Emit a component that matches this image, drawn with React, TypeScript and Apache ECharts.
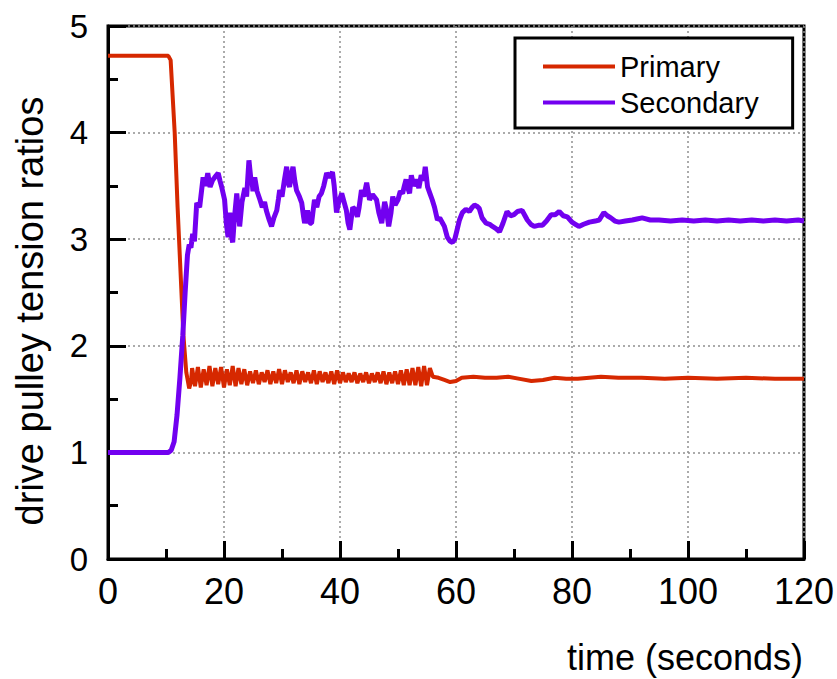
import React, { useEffect, useRef } from "react";
import * as echarts from "echarts";

const xTicks = [0, 20, 40, 60, 80, 100, 120];
const yTicks = [0, 1, 2, 3, 4, 5];

const primaryTime = [
  0, 5, 10.4, 10.8, 11.5, 12.0, 12.5, 13.0, 13.5, 14.0, 14.3,
  14.5, 15, 15.5, 16, 16.5, 17, 17.5, 18, 18.5, 19, 19.5, 20, 20.5, 21, 21.5, 22, 22.5, 23, 23.5, 24,
  24.5, 25, 25.5, 26, 26.5, 27, 27.5, 28, 28.5, 29, 29.5, 30, 30.5, 31, 31.5, 32, 32.5, 33, 33.5, 34,
  34.5, 35, 35.5, 36, 36.5, 37, 37.5, 38, 38.5, 39, 39.5, 40, 40.5, 41, 41.5, 42, 42.5, 43, 43.5, 44,
  44.5, 45, 45.5, 46, 46.5, 47, 47.5, 48, 48.5, 49, 49.5, 50, 50.5, 51, 51.5, 52, 52.5, 53, 53.5, 54,
  54.5, 55, 55.5, 56,
  57, 58, 59, 60, 61, 63, 65, 67, 69, 71, 73, 75, 77, 79, 81, 83, 85, 88, 92, 96, 100, 105, 110, 115, 120,
];
const primaryRatio = [
  4.72, 4.72, 4.72, 4.68, 4.0, 3.3, 2.7, 2.1, 1.75, 1.6, 1.66,
  1.79, 1.62, 1.8, 1.61, 1.78, 1.63, 1.81, 1.62, 1.79, 1.64, 1.8, 1.61, 1.78, 1.63, 1.81, 1.62, 1.79, 1.64, 1.78, 1.63,
  1.76, 1.65, 1.77, 1.64, 1.75, 1.66, 1.77, 1.64, 1.76, 1.65, 1.78, 1.64, 1.77, 1.66, 1.75, 1.65, 1.77, 1.64, 1.76, 1.66,
  1.75, 1.65, 1.77, 1.64, 1.76, 1.66, 1.75, 1.65, 1.76, 1.64, 1.77, 1.65, 1.75, 1.66, 1.74, 1.66, 1.75, 1.65, 1.74, 1.66,
  1.75, 1.65, 1.74, 1.66, 1.75, 1.65, 1.76, 1.64, 1.75, 1.65, 1.76, 1.64, 1.77, 1.63, 1.78, 1.63, 1.79, 1.63, 1.8, 1.62,
  1.81, 1.63, 1.79, 1.71,
  1.7, 1.68, 1.66, 1.67, 1.7, 1.71, 1.7, 1.7, 1.71, 1.69, 1.67, 1.68, 1.7, 1.69, 1.69, 1.7, 1.71, 1.7, 1.7, 1.69, 1.7, 1.69, 1.7, 1.69, 1.69,
];

const secondaryTime = [
  0, 10.4, 10.9, 11.4, 11.9, 12.4, 12.9, 13.3, 13.7, 14.0, 14.3, 14.6, 14.9,
  15.3, 15.8, 16.4, 16.8, 17.2, 17.6, 18.0, 18.4, 19.0, 19.3, 19.6, 20.1, 20.4, 20.7, 21.0, 21.2, 21.5, 21.8,
  22.2, 22.5, 22.7, 23.1, 23.6, 23.9, 24.3, 24.6, 24.8, 25.0, 25.3, 25.7, 26.2, 26.6, 27.0, 27.3, 27.8, 28.2,
  28.6, 29.1, 29.4, 29.6, 30.0, 30.4, 30.8, 31.1, 31.3, 31.6, 31.9, 32.2, 32.5, 33.0, 33.4, 33.7, 33.9, 34.4,
  34.8, 35.1, 35.6, 36.0, 36.4, 36.8, 37.2, 37.7, 38.2, 38.7, 39.0, 39.4, 39.8, 40.3, 40.7, 41.1, 41.4, 41.7,
  42.2, 42.6, 43.0, 43.3, 43.7, 44.1, 44.6, 45.1, 45.6, 46.3, 46.7, 47.2, 47.7, 48.0, 48.4, 48.8, 49.1, 49.5,
  50.0, 50.4, 50.8, 51.1, 51.4, 51.7, 52.0, 52.3, 52.7, 53.2, 53.6, 54.0, 54.4, 54.7, 55.1, 55.5, 55.9, 56.3,
  56.8, 57.2, 57.7, 58.0, 58.5, 59.0, 59.4, 59.8, 60.2, 60.6, 61.1, 61.7, 62.3, 62.8, 63.2, 63.6, 64.0, 64.5,
  65.2, 65.8, 66.3, 66.9, 67.5, 68.1, 68.8, 69.4, 70.0, 70.6, 71.4, 71.9, 72.3, 72.9, 73.5, 74.2, 74.9, 75.6,
  76.4, 77.1, 77.8, 78.5, 79.2, 80.0, 80.6, 81.2, 82.0, 83.0, 84.0, 84.7, 85.5, 86.1, 86.7, 87.4, 88.1, 89.2,
  90.4, 91.2, 92.1, 93.5, 95, 97, 99, 101, 103, 105, 107, 109, 111, 113, 115, 117, 119, 120,
];
const secondaryRatio = [
  1.0, 1.0, 1.02, 1.1, 1.35, 1.7, 2.1, 2.5, 2.85, 2.95, 2.92, 3.05, 2.98,
  3.34, 3.3, 3.58, 3.5, 3.62, 3.49, 3.55, 3.58, 3.62, 3.55, 3.49, 3.37, 3.15, 3.02, 3.25, 3.05, 2.97, 3.2,
  3.43, 3.25, 3.12, 3.35, 3.48, 3.4, 3.74, 3.58, 3.56, 3.45, 3.58, 3.45, 3.37, 3.3, 3.35, 3.27, 3.18, 3.12,
  3.2, 3.27, 3.38, 3.46, 3.4, 3.55, 3.68, 3.52, 3.49, 3.6, 3.68, 3.55, 3.46, 3.4, 3.34, 3.22, 3.15, 3.27,
  3.15, 3.15, 3.37, 3.3, 3.4, 3.43, 3.5, 3.62, 3.58, 3.63, 3.5, 3.25, 3.35, 3.43, 3.35, 3.27, 3.15, 3.09,
  3.3, 3.28, 3.21, 3.3, 3.46, 3.4, 3.53, 3.37, 3.42, 3.37, 3.25, 3.15, 3.35, 3.28, 3.12, 3.25, 3.4, 3.32,
  3.37, 3.45, 3.43, 3.5, 3.56, 3.48, 3.43, 3.6, 3.5, 3.56, 3.48, 3.6, 3.55, 3.68, 3.49, 3.43, 3.37, 3.3,
  3.18, 3.2, 3.15, 3.12, 3.02, 2.98, 2.97, 3.0, 3.09, 3.18, 3.25, 3.28, 3.26, 3.3, 3.32, 3.31, 3.29, 3.2,
  3.15, 3.14, 3.12, 3.1, 3.07, 3.15, 3.26, 3.22, 3.23, 3.26, 3.27, 3.22, 3.18, 3.14, 3.12, 3.13, 3.13, 3.17,
  3.23, 3.23, 3.26, 3.22, 3.21, 3.16, 3.14, 3.12, 3.14, 3.16, 3.17, 3.18, 3.25, 3.22, 3.2, 3.17, 3.16, 3.17,
  3.18, 3.19, 3.2, 3.18, 3.18, 3.17, 3.18, 3.17, 3.18, 3.17, 3.18, 3.17, 3.18, 3.17, 3.18, 3.17, 3.18, 3.17,
];

const FONT = "'Liberation Sans', Arial, sans-serif";

export default function App() {
  const ref = useRef<HTMLDivElement>(null);
  useEffect(() => {
    if (!ref.current) return;
    const chart = echarts.init(ref.current, undefined, { renderer: "svg" });
    const primaryData = primaryTime.map((t, i) => [t, primaryRatio[i]]);
    const secondaryData = secondaryTime.map((t, i) => [t, secondaryRatio[i]]);
    const axisCommon = {
      type: "value" as const,
      axisLine: { show: true, lineStyle: { color: "#000", width: 3 } },
      axisTick: { show: true, inside: true, length: 18, lineStyle: { color: "#000", width: 3 } },
      minorTick: { show: true, splitNumber: 2, length: 10, lineStyle: { color: "#000", width: 3 } },
      splitLine: { show: true, lineStyle: { color: "#909090", type: [2, 3] as any, width: 1.5 } },
    };
    chart.setOption({
      animation: false,
      backgroundColor: "#fff",
      grid: {
        left: 108,
        right: 32,
        top: 26,
        bottom: 120,
        show: true,
        borderColor: "#000",
        borderWidth: 3,
        backgroundColor: "transparent",
      },
      xAxis: {
        ...axisCommon,
        min: xTicks[0],
        max: xTicks[xTicks.length - 1],
        interval: 20,
        axisLabel: { fontSize: 36, color: "#000", fontFamily: FONT, margin: 14 },
      },
      yAxis: {
        ...axisCommon,
        min: yTicks[0],
        max: yTicks[yTicks.length - 1],
        interval: 1,
        axisLabel: { fontSize: 33, color: "#000", fontFamily: FONT, margin: 20 },
      },
      legend: {
        left: 515,
        top: 38,
        orient: "vertical",
        icon: "rect",
        itemWidth: 72,
        itemHeight: 4,
        itemGap: 7,
        padding: [14, 34, 11, 28],
        borderColor: "#000",
        borderWidth: 3,
        backgroundColor: "#fff",
        textStyle: { fontSize: 29, color: "#000", fontFamily: FONT, lineHeight: 29 },
        data: ["Primary", "Secondary"],
      },
      graphic: [
        {
          type: "text",
          x: 803,
          y: 657,
          style: {
            text: "time (seconds)",
            font: `36px ${FONT}`,
            fill: "#000",
            textAlign: "right",
            textVerticalAlign: "middle",
          },
        },
        {
          type: "text",
          x: 30,
          y: 311,
          rotation: Math.PI / 2,
          style: {
            text: "drive pulley tension ratios",
            font: `38px ${FONT}`,
            fill: "#000",
            textAlign: "center",
            textVerticalAlign: "middle",
          },
        },
      ],
      series: [
        {
          name: "Primary",
          type: "line",
          data: primaryData,
          showSymbol: false,
          symbol: "none",
          color: "#d62800",
          lineStyle: { color: "#d62800", width: 4 },
        },
        {
          name: "Secondary",
          type: "line",
          data: secondaryData,
          showSymbol: false,
          symbol: "none",
          color: "#7200f0",
          lineStyle: { color: "#7200f0", width: 5 },
        },
      ],
    });
    return () => chart.dispose();
  }, []);
  return (
    <div
      ref={ref}
      style={{ position: "fixed", left: 0, top: 0, width: 837, height: 679, background: "#fff" }}
    />
  );
}
